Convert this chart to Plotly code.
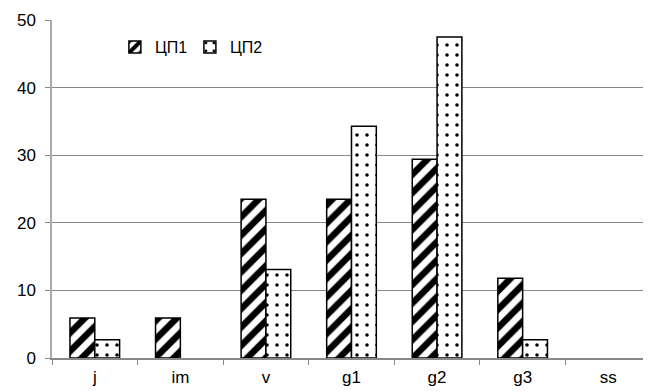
import plotly.graph_objects as go

categories = ["j", "im", "v", "g1", "g2", "g3", "ss"]
cp1 = [5.9, 5.9, 23.5, 23.5, 29.4, 11.8, 0]
cp2 = [2.7, 0, 13.1, 34.3, 47.5, 2.7, 0]
y_ticks = [0, 10, 20, 30, 40, 50]


def outline_widths(vals):
    return [1.5 if v > 0 else 0 for v in vals]


fig = go.Figure()
fig.add_trace(go.Bar(
    x=categories, y=cp1, name="ЦП1",
    marker=dict(color="white", line=dict(color="black", width=outline_widths(cp1)),
                pattern=dict(shape="/", fgcolor="#000000", bgcolor="white", fgopacity=1,
                             size=13, solidity=0.5)),
))
fig.add_trace(go.Bar(
    x=categories, y=cp2, name="ЦП2",
    marker=dict(color="white", line=dict(color="black", width=outline_widths(cp2)),
                pattern=dict(shape=".", fgcolor="#000000", bgcolor="white", fgopacity=1,
                             size=10, solidity=0.1)),
))

# page body has an 8px default margin: shrink figure so plot area lands where the reference has it
fig.update_layout(
    width=643, height=384,
    margin=dict(l=44, r=0, t=12, b=34, pad=0),
    paper_bgcolor="white", plot_bgcolor="white",
    barmode="group", bargap=0.42, bargroupgap=0,
    font=dict(family="Liberation Sans, Arial, sans-serif", size=16, color="black"),
    legend=dict(orientation="h", x=0.105, y=0.92, xanchor="left", yanchor="middle",
                bgcolor="rgba(0,0,0,0)", font=dict(size=16), itemwidth=30,
                entrywidth=30, entrywidthmode="pixels",
                traceorder="normal"),
    showlegend=True,
)
fig.update_xaxes(
    showgrid=False, showline=True, linecolor="#888888", linewidth=1.5,
    ticks="outside", tickson="boundaries", ticklen=5, tickcolor="#888888",
    tickfont=dict(size=17), ticklabelstandoff=3,
)
fig.update_yaxes(
    range=[0, 50], tickvals=y_ticks, showgrid=True, gridcolor="#888888", gridwidth=1.2,
    showline=True, linecolor="#aaaaaa", linewidth=1.5,
    ticks="outside", ticklen=5, tickcolor="#888888", zeroline=False,
    tickfont=dict(size=17), ticklabelstandoff=6,
)
fig.write_html("out.html")
